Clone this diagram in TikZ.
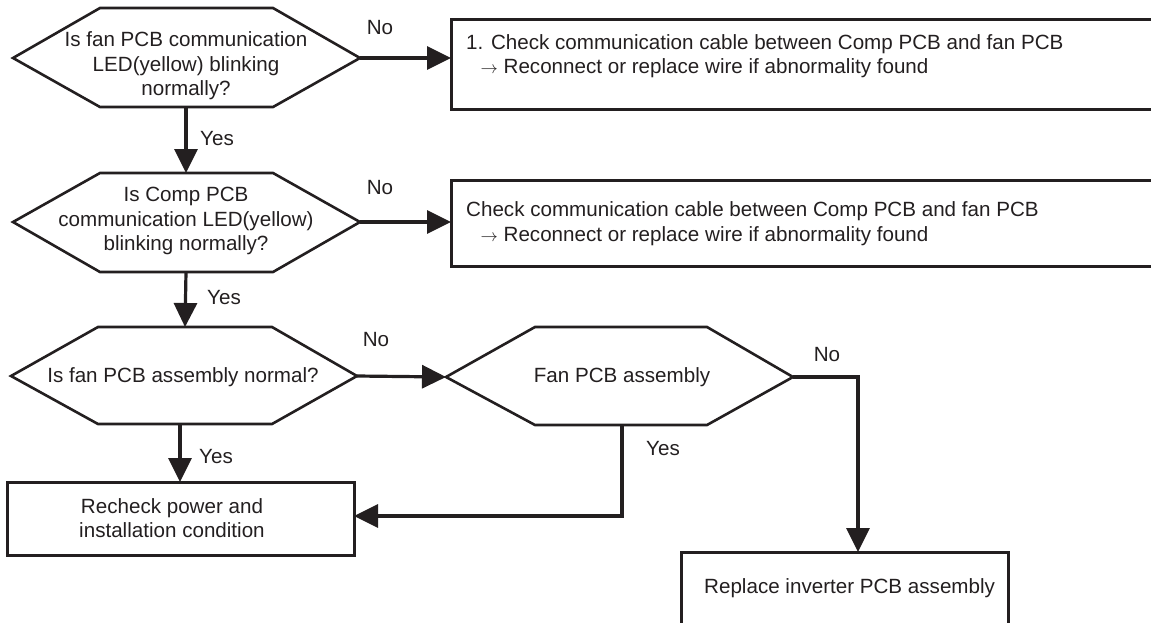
\documentclass[tikz,border=0pt]{standalone}
\usepackage{fontspec}
\setmainfont{Liberation Sans}
\usetikzlibrary{arrows.meta}
\definecolor{ink}{RGB}{35,31,32}
\newcommand{\smallarr}{{\fontsize{18}{18}\selectfont$\rightarrow$}}
\tikzset{
  hexa/.style={draw=ink, line width=2.6pt, line join=miter},
  boxline/.style={draw=ink, line width=3pt},
  conn/.style={draw=ink, line width=3.2pt, -{Triangle[length=24pt,width=23pt]}},
  txt/.style={font=\fontsize{20.6}{24.5}\selectfont, text=ink, align=center, inner sep=0pt},
  ltxt/.style={font=\fontsize{20.6}{24.5}\selectfont, text=ink, align=left, inner sep=0pt, anchor=west},
  lbl/.style={font=\fontsize{20.6}{24.5}\selectfont, text=ink, inner sep=0pt}
}
\begin{document}
\begin{tikzpicture}[x=1pt,y=-1pt]
\useasboundingbox (0,0) rectangle (1151,622);

% Hexagon 1
\draw[hexa] (13,58) coordinate (h1w) -- (100,8) -- (273,8) -- (360,58) coordinate (h1e) -- (273,107) -- (100,107) -- cycle;
\coordinate (h1s) at (186,107);
\node[txt] (t1) at (186,66) {Is fan PCB communication\\LED(yellow) blinking\\normally?};

% Box 1
\draw[boxline] (1160,19) -- (451,19) -- (451,109) -- (1160,109);
\coordinate (b1w) at (451,58);
\node[ltxt] (bt1a) at (466,44) {1. Check communication cable between Comp PCB and fan PCB};
\node[ltxt] (bt1b) at (477,68) {\,\smallarr\ Reconnect or replace wire if abnormality found};

% Hexagon 2
\draw[hexa] (13,222) coordinate (h2w) -- (100,173) -- (273,173) -- (360,222) coordinate (h2e) -- (273,272) -- (100,272) -- cycle;
\coordinate (h2n) at (186,173);
\coordinate (h2s) at (186,272);
\node[txt] (t2) at (186,221) {Is Comp PCB\\communication LED(yellow)\\blinking normally?};

% Box 2
\draw[boxline] (1160,180) -- (451,180) -- (451,266) -- (1160,266);
\coordinate (b2w) at (451,222);
\node[ltxt] (bt2a) at (466,211) {Check communication cable between Comp PCB and fan PCB};
\node[ltxt] (bt2b) at (477,236) {\,\smallarr\ Reconnect or replace wire if abnormality found};

% Hexagon 3
\draw[hexa] (11,376) coordinate (h3w) -- (98,327) -- (272,327) -- (357,376) coordinate (h3e) -- (272,424) -- (98,424) -- cycle;
\coordinate (h3n) at (185,327);
\coordinate (h3s) at (180,424);
\node[txt] (t3) at (183,377) {Is fan PCB assembly normal?};

% Hexagon 4
\draw[hexa] (446,377) coordinate (h4w) -- (535,327) -- (707,327) -- (793,377) coordinate (h4e) -- (707,425) -- (535,425) -- cycle;
\coordinate (h4s) at (622,425);
\node[txt] (t4) at (622,377) {Fan PCB assembly};

% Recheck box
\draw[boxline] (7,482) rectangle (354,555);
\coordinate (r1n) at (180,482);
\coordinate (r1e) at (354,516);
\node[txt] (rt) at (172,518) {Recheck power and\\installation condition};

% Replace box
\draw[boxline] (681,630) -- (681,552) -- (1008,552) -- (1008,630);
\coordinate (r2n) at (858,552);
\node[ltxt] (rt2) at (704,588) {Replace inverter PCB assembly};

% Connectors
\draw[conn] (h1e) -- (b1w);
\draw[conn] (h1s) -- (h2n);
\draw[conn] (h2e) -- (b2w);
\draw[conn] (h2s) -- (h3n);
\draw[conn] (h3e) -- (h4w);
\draw[conn] (h3s) -- (r1n);
\coordinate (c1) at (858,377);
\draw[conn] (h4e) -- (c1) -- (r2n);
\coordinate (c2) at (622,516);
\draw[conn] (h4s) -- (c2) -- (r1e);

% Labels
\node[lbl] (n1) at (380,28) {No};
\node[lbl] (y1) at (217,139) {Yes};
\node[lbl] (n2) at (380,188) {No};
\node[lbl] (y2) at (224,298) {Yes};
\node[lbl] (n3) at (376,340) {No};
\node[lbl] (n4) at (827,355) {No};
\node[lbl] (y3) at (216,457) {Yes};
\node[lbl] (y4) at (663,449) {Yes};
\end{tikzpicture}
\end{document}
